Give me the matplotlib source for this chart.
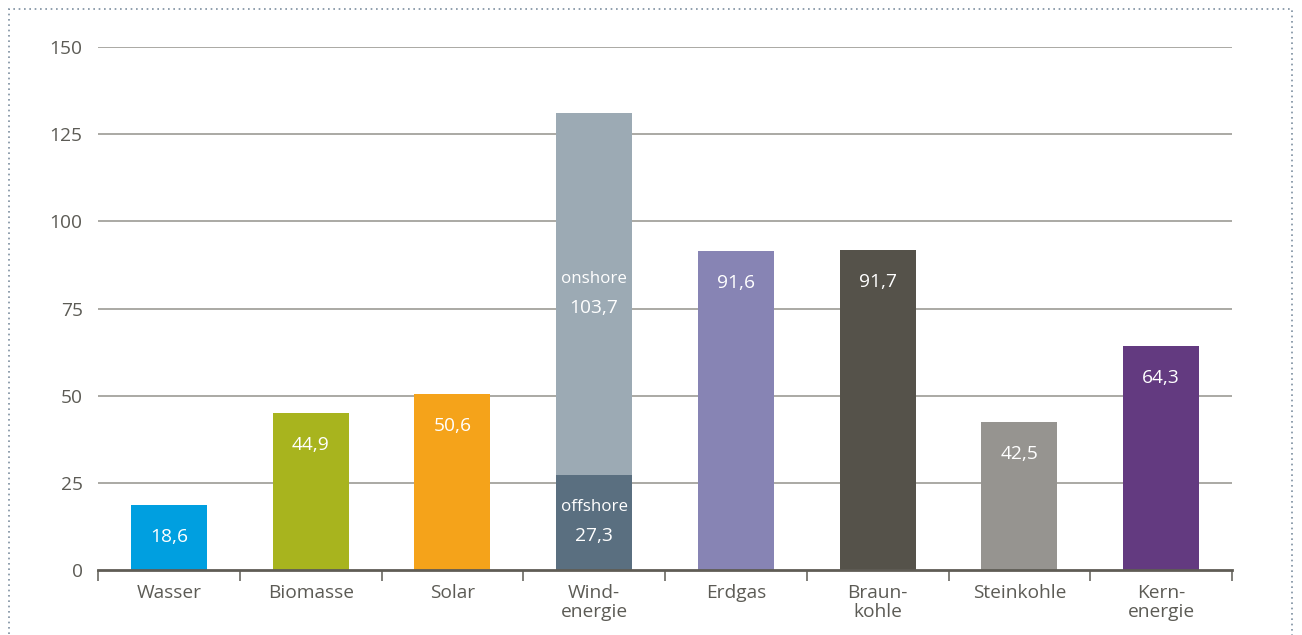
import numpy as np
import matplotlib
matplotlib.use('Agg')
import matplotlib.patches as patches
from matplotlib import pyplot as plt

plt.rcParams['font.family'] = ['Open Sans', 'DejaVu Sans']

# ---- data

categories = ['Wasser', 'Biomasse', 'Solar', 'Wind-\nenergie', 'Erdgas',
              'Braun-\nkohle', 'Steinkohle', 'Kern-\nenergie']
values = [18.6, 44.9, 50.6, None, 91.6, 91.7, 42.5, 64.3]
wind_offshore = 27.3
wind_onshore = 103.7
colors = ['#009fe0', '#a8b41e', '#f5a31a', None, '#8784b4',
          '#55524a', '#969490', '#633a80']
offshore_color = '#5a6f80'
onshore_color = '#9caab4'
yticks = [0, 25, 50, 75, 100, 125, 150]

txt_gray = '#5c5b55'

# ---- figure

fig = plt.figure(figsize=(13.02, 6.35), dpi=100)
ax = fig.add_axes([98/1302, 1 - 570/635, (1232 - 98)/1302, (570 - 47)/635])

x = np.arange(len(categories))
w = 0.535

for i, v in enumerate(values):
    if v is None:
        continue
    ax.bar(x[i], v, width=w, color=colors[i], zorder=3)
    ax.annotate(f'{v:.1f}'.replace('.', ','), (x[i], v), xytext=(0, -32),
                textcoords='offset pixels', ha='center', va='center',
                color='white', fontsize=13.8)

# wind: stacked offshore + onshore
iw = categories.index('Wind-\nenergie')
ax.bar(x[iw], wind_offshore, width=w, color=offshore_color, zorder=3)
ax.bar(x[iw], wind_onshore, bottom=wind_offshore, width=w,
       color=onshore_color, zorder=3)
for lab, bot, val in [('offshore', 0, wind_offshore),
                      ('onshore', wind_offshore, wind_onshore)]:
    mid = bot + val / 2
    ax.annotate(lab, (x[iw], mid), xytext=(0, 15), textcoords='offset pixels',
                ha='center', va='center', color='white', fontsize=12.2)
    ax.annotate(f'{val:.1f}'.replace('.', ','), (x[iw], mid), xytext=(0, -14),
                textcoords='offset pixels', ha='center', va='center',
                color='white', fontsize=13.8)

# gridlines
for t in yticks[1:]:
    ax.axhline(t, color='#9c9b95', lw=1.2, zorder=1)

ax.set_xlim(-0.5, len(categories) - 0.5)
ax.set_ylim(0, 150)
ax.set_yticks(yticks)
ax.set_yticklabels([str(t) for t in yticks], fontsize=13.8, color=txt_gray)
ax.tick_params(axis='y', length=0, pad=11)

# category ticks at boundaries
ax.set_xticks(np.arange(len(categories) + 1) - 0.5)
ax.set_xticklabels([])
ax.tick_params(axis='x', length=8, width=1.2, color='#6a6862', direction='out')
for i, c in enumerate(categories):
    ax.text(x[i], -4.0, c, ha='center', va='top', fontsize=13.8,
            color=txt_gray, linespacing=1.05)

for s in ['top', 'right', 'left']:
    ax.spines[s].set_visible(False)
ax.spines['bottom'].set_color('#5f5c55')
ax.spines['bottom'].set_linewidth(2)
ax.spines['bottom'].set_zorder(4)

# dotted frame
frame = patches.Rectangle((9/1302, -0.1), (1292 - 9)/1302, 1.1 - 9/635,
                          transform=fig.transFigure, fill=False,
                          edgecolor='#7d8fa0', lw=1.2, linestyle=(0, (1, 2.2)))
fig.patches.append(frame)

plt.savefig('out.png', dpi=100)
